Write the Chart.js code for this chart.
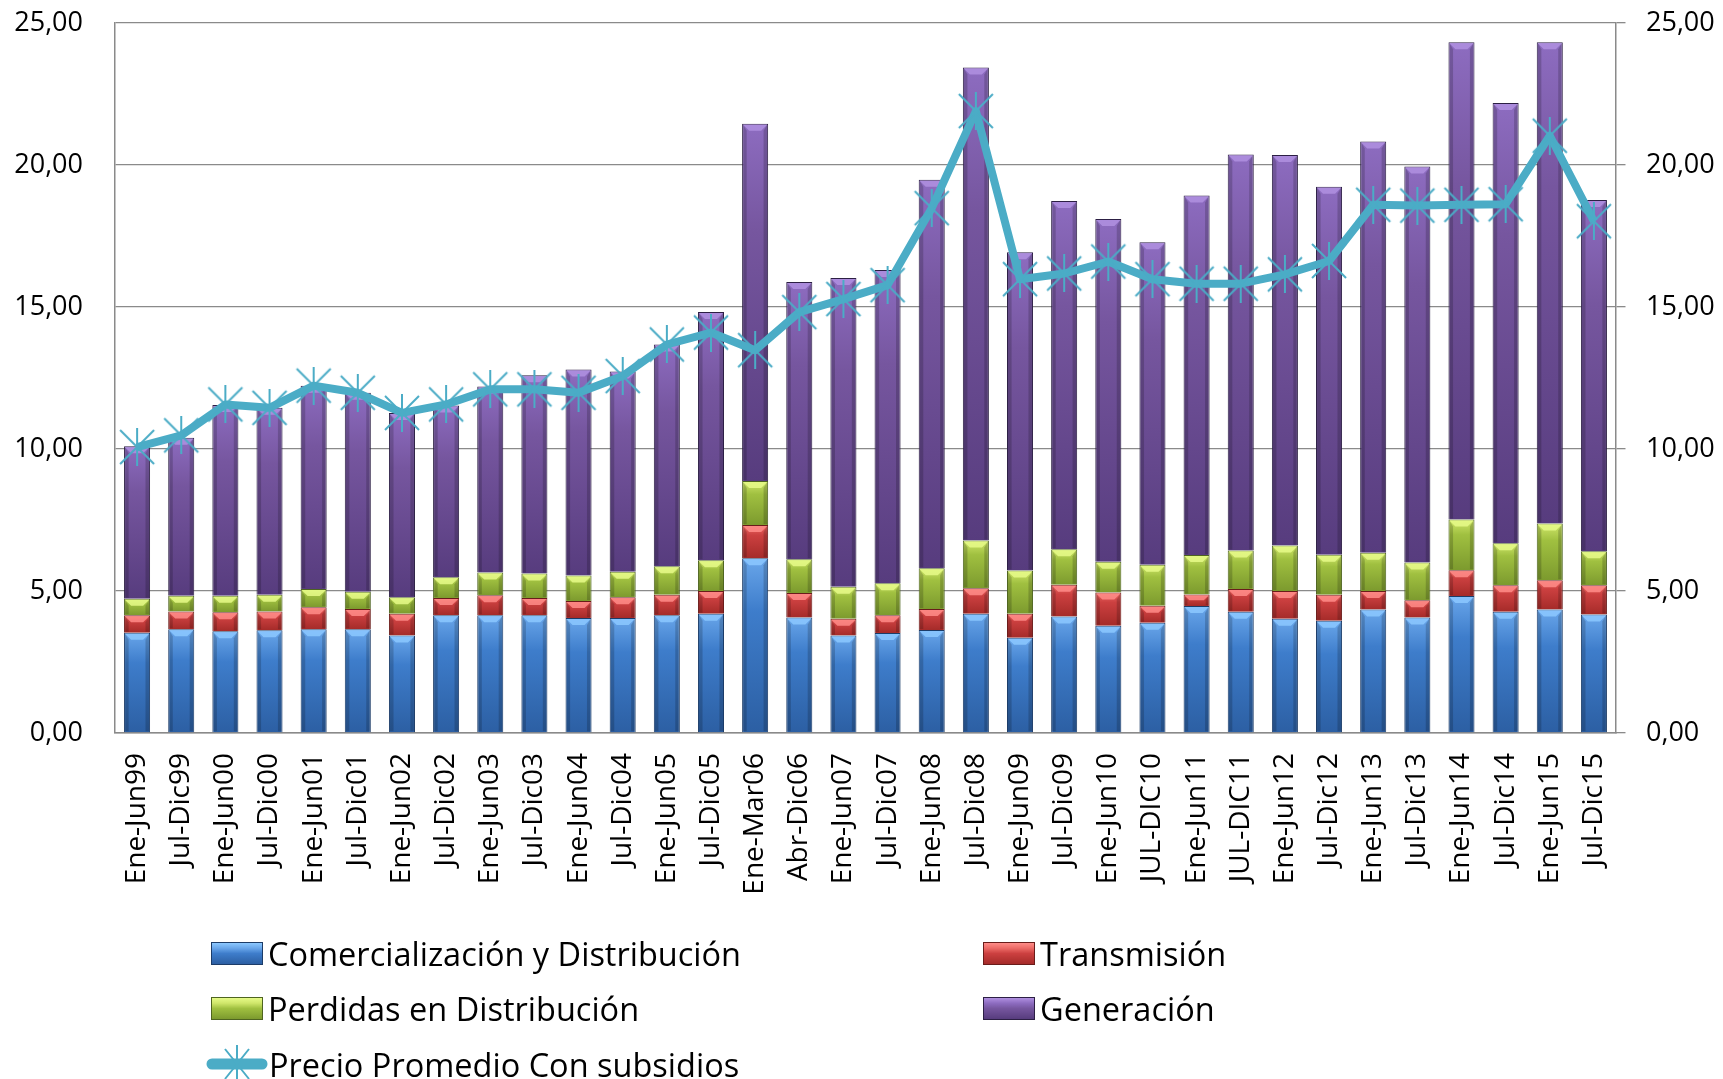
<!DOCTYPE html>
<html>
<head>
<meta charset="utf-8">
<script src="https://cdn.jsdelivr.net/npm/chart.js@4.4.1/dist/chart.umd.min.js"></script>
<style>
  html, body { margin: 0; padding: 0; background: #fff; }
  #wrap { position: relative; width: 1723px; height: 1079px; overflow: hidden; }
  #chart { position: absolute; left: 0; top: 0; }
  .lg { position: absolute; display: flex; align-items: center; height: 46px;
        font-family: 'Open Sans', sans-serif; font-size: 32.5px; color: #000; white-space: nowrap; }
  .sw { width: 50px; height: 21px; border: 1px solid; margin-right: 5px; box-sizing: content-box; }
  .lg svg { margin-right: 1px; }
</style>
</head>
<body>
<div id="wrap">
  <canvas id="chart" width="1723" height="1079"></canvas>
  <div id="legend"></div>
</div>
<script>
// ---- data ----
const categories = ['Ene-Jun99','Jul-Dic99','Ene-Jun00','Jul-Dic00','Ene-Jun01','Jul-Dic01','Ene-Jun02','Jul-Dic02',
  'Ene-Jun03','Jul-Dic03','Ene-Jun04','Jul-Dic04','Ene-Jun05','Jul-Dic05','Ene-Mar06','Abr-Dic06','Ene-Jun07',
  'Jul-Dic07','Ene-Jun08','Jul-Dic08','Ene-Jun09','Jul-Dic09','Ene-Jun10','JUL-DIC10','Ene-Jun11','JUL-DIC11',
  'Ene-Jun12','Jul-Dic12','Ene-Jun13','Jul-Dic13','Ene-Jun14','Jul-Dic14','Ene-Jun15','Jul-Dic15'];

const comercializacion = [3.53,3.65,3.58,3.62,3.65,3.65,3.43,4.15,4.15,4.15,4.05,4.05,4.15,4.20,6.15,4.07,3.43,
  3.52,3.63,4.20,3.35,4.10,3.78,3.88,4.47,4.27,4.02,3.95,4.35,4.07,4.82,4.27,4.35,4.17];
const transmision = [0.62,0.63,0.67,0.66,0.78,0.72,0.77,0.60,0.70,0.60,0.60,0.73,0.72,0.80,1.17,0.86,0.59,
  0.63,0.74,0.90,0.85,1.12,1.17,0.60,0.41,0.80,0.98,0.92,0.65,0.60,0.91,0.93,1.03,1.03];
const perdidas = [0.58,0.55,0.58,0.59,0.64,0.60,0.58,0.73,0.80,0.87,0.90,0.90,1.00,1.08,1.55,1.19,1.13,
  1.12,1.43,1.68,1.52,1.25,1.08,1.44,1.39,1.36,1.60,1.41,1.35,1.33,1.79,1.48,2.00,1.20];
const generacion = [5.37,5.57,6.72,6.58,7.16,7.01,6.49,6.05,6.55,6.98,7.25,7.05,7.81,8.74,12.58,9.76,10.87,
  11.03,13.68,16.65,11.21,12.26,12.07,11.36,12.66,13.94,13.75,12.95,14.48,13.95,16.80,15.50,16.94,12.37];
const precioPromedio = [10.07,10.48,11.57,11.45,12.23,11.98,11.27,11.57,12.10,12.10,11.98,12.57,13.68,14.10,
  13.48,14.82,15.28,15.77,18.48,21.90,15.98,16.18,16.60,15.98,15.82,15.82,16.15,16.62,18.60,18.57,18.60,18.62,21.03,18.02];

const seriesNames = ['Comercialización y Distribución','Transmisión','Perdidas en Distribución','Generación'];
const lineName = 'Precio Promedio Con subsidios';
const axisMin = 0, axisMax = 25, axisStep = 5;

// ---- styling ----
const stacks = [comercializacion, transmision, perdidas, generacion];
const palettes = [
  {light:'#69a6ea', mid:'#3e7dcb', dark:'#2c5fa3', border:'#1c3c68', cap:'#8cc8ff'},
  {light:'#ec6a66', mid:'#cc4040', dark:'#a52b29', border:'#6a1c1a', cap:'#ff8c88'},
  {light:'#cfe66a', mid:'#a0c040', dark:'#7c9a2e', border:'#4e6420', cap:'#e6fa88'},
  {light:'#8d6cc0', mid:'#76569f', dark:'#573c7e', border:'#2c1f44', cap:'#b090e0'}
];
const lineColor = '#4bacc6';

function makeStar(size, color, lw) {
  const c = document.createElement('canvas');
  c.width = size; c.height = size;
  const g = c.getContext('2d');
  g.strokeStyle = color; g.lineWidth = lw;
  const p = lw;
  g.beginPath();
  g.moveTo(p, p); g.lineTo(size - p, size - p);
  g.moveTo(size - p, p); g.lineTo(p, size - p);
  g.moveTo(size / 2, 0); g.lineTo(size / 2, size);
  g.stroke();
  return c;
}
const star = makeStar(38, lineColor, 2);

function gradientFor(dsIndex) {
  const pal = palettes[dsIndex];
  return function (ctx) {
    const chart = ctx.chart;
    if (!chart.chartArea || ctx.type !== 'data') return pal.mid;
    const y = chart.scales.y;
    const i = ctx.dataIndex;
    let start = 0;
    for (let k = 0; k < dsIndex; k++) start += stacks[k][i];
    const end = start + stacks[dsIndex][i];
    const top = y.getPixelForValue(end), bottom = y.getPixelForValue(start);
    if (!isFinite(top) || !isFinite(bottom) || bottom - top < 1) return pal.mid;
    const g = chart.ctx.createLinearGradient(0, top, 0, bottom);
    g.addColorStop(0, pal.light);
    g.addColorStop(0.3, pal.mid);
    g.addColorStop(1, pal.dark);
    return g;
  };
}

// bevel effect drawn over each bar element produced by the library
const bevelPlugin = {
  id: 'bevel',
  afterDatasetDraw(chart, args) {
    const ds = chart.data.datasets[args.index];
    if (ds.type !== 'bar') return;
    const pal = palettes[args.index];
    const c = chart.ctx;
    c.save();
    args.meta.data.forEach(bar => {
      const p = bar.getProps(['x', 'y', 'base', 'width'], true);
      const l = p.x - p.width / 2 + 1, r = p.x + p.width / 2 - 1;
      const t = Math.min(p.y, p.base) + 1, b = Math.max(p.y, p.base) - 1;
      const h = b - t;
      if (h < 2) return;
      const d = Math.min(6, h / 2);
      // top cap highlight
      c.fillStyle = pal.cap;
      c.globalAlpha = 0.85;
      c.beginPath();
      c.moveTo(l, t); c.lineTo(r, t); c.lineTo(r - d, t + d); c.lineTo(l + d, t + d); c.closePath();
      c.fill();
      // darker side strips
      c.globalAlpha = 0.18;
      c.fillStyle = '#000';
      c.beginPath();
      c.moveTo(l, t); c.lineTo(l + d * 0.6, t + d); c.lineTo(l + d * 0.6, b); c.lineTo(l, b); c.closePath();
      c.fill();
      c.beginPath();
      c.moveTo(r, t); c.lineTo(r - d * 0.6, t + d); c.lineTo(r - d * 0.6, b); c.lineTo(r, b); c.closePath();
      c.fill();
    });
    c.restore();
  }
};

const fmt = v => Number(v).toFixed(2).replace('.', ',');

const barDatasets = stacks.map((arr, k) => ({
  type: 'bar',
  label: seriesNames[k],
  data: arr,
  stack: 's',
  yAxisID: 'y',
  backgroundColor: gradientFor(k),
  borderColor: palettes[k].border,
  borderWidth: 1,
  barPercentage: 0.59,
  categoryPercentage: 1.0,
  order: 1
}));

const lineDataset = {
  type: 'line',
  label: lineName,
  data: precioPromedio,
  yAxisID: 'y2',
  borderColor: lineColor,
  backgroundColor: lineColor,
  borderWidth: 8,
  tension: 0,
  pointStyle: star,
  pointRadius: 19,
  pointBorderWidth: 1,
  borderJoinStyle: 'round',
  order: 0
};

Chart.defaults.font.family = "'Open Sans', sans-serif";
Chart.defaults.color = '#000';

const gridColor = '#8a8a8a';

const chart = new Chart(document.getElementById('chart'), {
  data: { labels: categories, datasets: [...barDatasets, lineDataset] },
  plugins: [bevelPlugin],
  options: {
    responsive: false,
    animation: false,
    events: [],
    layout: { autoPadding: false, padding: { top: 23, left: 0, right: 0, bottom: 0 } },
    plugins: { legend: { display: false }, tooltip: { enabled: false } },
    scales: {
      x: {
        stacked: true,
        offset: true,
        grid: { display: false, drawTicks: false },
        border: { display: true, color: gridColor, width: 1.5 },
        ticks: { autoSkip: false, minRotation: 90, maxRotation: 90, padding: 20,
                 font: { size: 28 }, color: '#000' },
        afterFit: s => { s.height = 1079 - 733; }
      },
      y: {
        stacked: true,
        position: 'left',
        min: axisMin, max: axisMax,
        grid: { color: gridColor, lineWidth: 1.3, drawTicks: true, tickLength: 28, tickColor: 'rgba(0,0,0,0)' },
        border: { display: true, color: gridColor, width: 1.5 },
        ticks: { stepSize: axisStep, padding: 4, font: { size: 27, lineHeight: 1.0 }, color: '#000', callback: fmt },
        afterFit: s => { s.width = 115; }
      },
      y2: {
        position: 'right',
        min: axisMin, max: axisMax,
        grid: { drawOnChartArea: false, drawTicks: true, tickLength: 26, tickBorderDash: [9, 200],
                color: gridColor, lineWidth: 1.3 },
        border: { display: true, color: gridColor, width: 1.5 },
        ticks: { stepSize: axisStep, padding: 4, font: { size: 27, lineHeight: 1.0 }, color: '#000', callback: fmt },
        afterFit: s => { s.width = 1723 - 1616; }
      }
    }
  }
});

// ---- HTML legend built from the chart's datasets ----
const legendPos = [
  {left: 211, top: 930}, {left: 983, top: 930},
  {left: 211, top: 985}, {left: 983, top: 985},
  {left: 206, top: 1041}
];
const legendEl = document.getElementById('legend');
chart.data.datasets.forEach((ds, idx) => {
  const pos = legendPos[idx];
  const item = document.createElement('div');
  item.className = 'lg';
  item.style.left = pos.left + 'px';
  item.style.top = pos.top + 'px';
  if (ds.type === 'bar') {
    const pal = palettes[idx];
    const sw = document.createElement('div');
    sw.className = 'sw';
    sw.style.borderColor = pal.border;
    sw.style.background = `linear-gradient(to bottom, ${pal.cap} 0%, ${pal.light} 25%, ${pal.mid} 50%, ${pal.dark} 100%)`;
    item.appendChild(sw);
  } else {
    const ns = 'http://www.w3.org/2000/svg';
    const svg = document.createElementNS(ns, 'svg');
    svg.setAttribute('width', '62'); svg.setAttribute('height', '44');
    const ln = document.createElementNS(ns, 'line');
    ln.setAttribute('x1', '6'); ln.setAttribute('x2', '56'); ln.setAttribute('y1', '22'); ln.setAttribute('y2', '22');
    ln.setAttribute('stroke', lineColor); ln.setAttribute('stroke-width', '11'); ln.setAttribute('stroke-linecap', 'round');
    svg.appendChild(ln);
    const st = document.createElementNS(ns, 'path');
    st.setAttribute('d', 'M19 7 L43 37 M43 7 L19 37 M31 3 L31 41');
    st.setAttribute('stroke', lineColor); st.setAttribute('stroke-width', '2');
    svg.appendChild(st);
    item.appendChild(svg);
  }
  const tx = document.createElement('span');
  tx.textContent = ds.label;
  item.appendChild(tx);
  legendEl.appendChild(item);
});
</script>
</body>
</html>
